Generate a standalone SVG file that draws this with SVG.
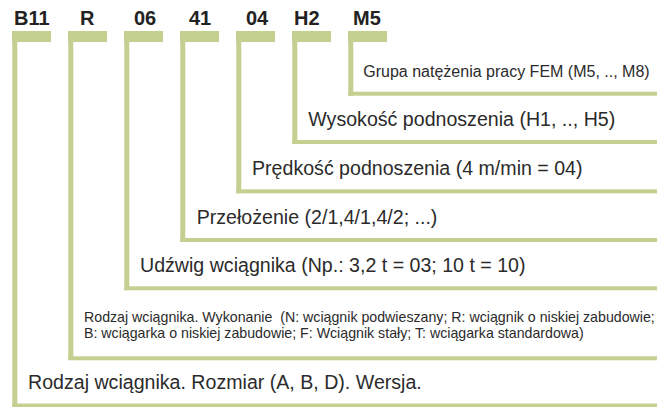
<svg xmlns="http://www.w3.org/2000/svg" width="668" height="407" viewBox="0 0 668 407">
<style>
.code{font-family:"Liberation Sans",Arial,sans-serif;font-weight:bold;font-size:20px;fill:#222}
.lbl{font-family:"Liberation Sans",Arial,sans-serif;fill:#2b2b2b}
.g{fill:#c3d08f}
</style>
<rect width="668" height="407" fill="#fff"/>
<g id="connectors">
<g id="c-B11"><rect class="g" x="12" y="31" width="39" height="11"/><rect class="g" x="12.3" y="31" width="5" height="376"/><rect class="g" x="12.3" y="403.5" width="644.7" height="4"/></g>
<g id="c-R"><rect class="g" x="68" y="31" width="39" height="11"/><rect class="g" x="68.3" y="31" width="5" height="329"/><rect class="g" x="68.3" y="356.3" width="588.7" height="4"/></g>
<g id="c-06"><rect class="g" x="124" y="31" width="39" height="11"/><rect class="g" x="124.3" y="31" width="5" height="259"/><rect class="g" x="124.3" y="286.3" width="532.7" height="4"/></g>
<g id="c-41"><rect class="g" x="180" y="31" width="39" height="11"/><rect class="g" x="180.3" y="31" width="5" height="211"/><rect class="g" x="180.3" y="238" width="476.7" height="4"/></g>
<g id="c-04"><rect class="g" x="236" y="31" width="39" height="11"/><rect class="g" x="236.3" y="31" width="5" height="162.3"/><rect class="g" x="236.3" y="189.3" width="420.7" height="4"/></g>
<g id="c-H2"><rect class="g" x="292" y="31" width="39" height="11"/><rect class="g" x="292.3" y="31" width="5" height="113"/><rect class="g" x="292.3" y="140" width="364.7" height="4"/></g>
<g id="c-M5"><rect class="g" x="348" y="31" width="39" height="11"/><rect class="g" x="348.3" y="31" width="5" height="64.7"/><rect class="g" x="348.3" y="91.7" width="308.7" height="4"/></g>
</g>
<g id="n-B11"><text class="code" x="14" y="25">B11</text><text class="lbl" x="28" y="389" font-size="19.6">Rodzaj wciągnika. Rozmiar (A, B, D). Wersja.</text></g>
<g id="n-R"><text class="code" x="80" y="25">R</text><text class="lbl" font-size="14.2"><tspan x="84" y="321.7" xml:space="preserve">Rodzaj wciągnika. Wykonanie  (N: wciągnik podwieszany; R: wciągnik o niskiej zabudowie;</tspan><tspan x="84" y="338">B: wciągarka o niskiej zabudowie; F: Wciągnik stały; T: wciągarka standardowa)</tspan></text></g>
<g id="n-06"><text class="code" x="134" y="25">06</text><text class="lbl" x="140" y="271.8" font-size="19.6">Udźwig wciągnika (Np.: 3,2 t = 03; 10 t = 10)</text></g>
<g id="n-41"><text class="code" x="189" y="25">41</text><text class="lbl" x="196.7" y="223.5" font-size="19.6">Przełożenie (2/1,4/1,4/2; ...)</text></g>
<g id="n-04"><text class="code" x="246" y="25">04</text><text class="lbl" x="252" y="174.8" font-size="19.6">Prędkość podnoszenia (4 m/min = 04)</text></g>
<g id="n-H2"><text class="code" x="294" y="25">H2</text><text class="lbl" x="308.3" y="125.5" font-size="19.6">Wysokość podnoszenia (H1, .., H5)</text></g>
<g id="n-M5"><text class="code" x="353" y="25">M5</text><text class="lbl" x="363.3" y="76.7" font-size="16">Grupa natężenia pracy FEM (M5, .., M8)</text></g>
</svg>
